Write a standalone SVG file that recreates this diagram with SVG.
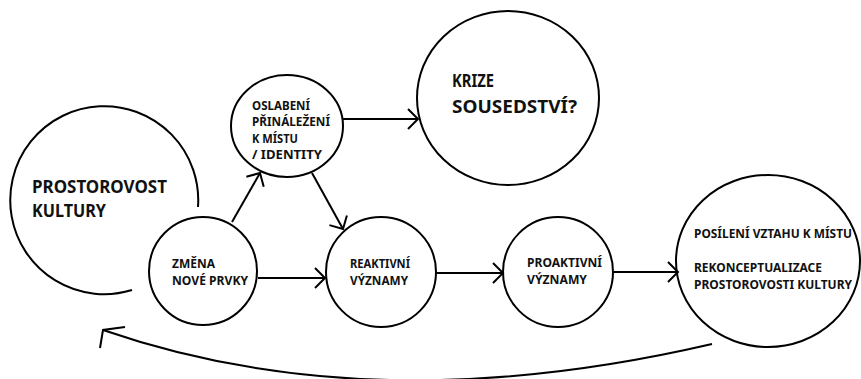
<svg xmlns="http://www.w3.org/2000/svg" width="861" height="379" viewBox="0 0 861 379">
<style>
.n{fill:#fff;stroke:#000;stroke-width:2}
.t{font-family:"Noto Sans","Open Sans","Liberation Sans",sans-serif;font-weight:bold;font-size:12px;fill:#111}
.b{font-size:17.5px}
.c{fill:none;stroke:#000;stroke-width:2}
</style>
<defs>
<marker id="ah" viewBox="0 0 22 22" refX="11" refY="11" markerWidth="22" markerHeight="22" markerUnits="userSpaceOnUse" orient="auto">
<path d="M1,1 L11,11 L1,21" fill="none" stroke="#000" stroke-width="2"/>
</marker>
</defs>
<rect width="861" height="379" fill="#fff"/>
<g id="prostorovost">
<path class="c" d="M198,207 A94,94 0 1 0 132,290"/>
<text class="t b" x="32" y="193" textLength="135" lengthAdjust="spacingAndGlyphs">PROSTOROVOST</text>
<text class="t b" x="32" y="217" textLength="74" lengthAdjust="spacingAndGlyphs">KULTURY</text>
</g>
<g id="zmena">
<circle class="n" cx="203" cy="271" r="54"/>
<text class="t" x="172" y="268" textLength="43" lengthAdjust="spacingAndGlyphs">ZMĚNA</text>
<text class="t" x="172" y="285" textLength="76" lengthAdjust="spacingAndGlyphs">NOVÉ PRVKY</text>
</g>
<g id="oslabeni">
<ellipse class="n" cx="287" cy="126" rx="56" ry="51"/>
<text class="t" x="252" y="110" textLength="58" lengthAdjust="spacingAndGlyphs">OSLABENÍ</text>
<text class="t" x="252" y="126" textLength="78" lengthAdjust="spacingAndGlyphs">PŘINÁLEŽENÍ</text>
<text class="t" x="252" y="143" textLength="46" lengthAdjust="spacingAndGlyphs">K MÍSTU</text>
<text class="t" x="252" y="159" textLength="70" lengthAdjust="spacingAndGlyphs">/ IDENTITY</text>
</g>
<g id="krize">
<ellipse class="n" cx="508" cy="98" rx="91" ry="87"/>
<text class="t b" x="452" y="87" textLength="42" lengthAdjust="spacingAndGlyphs">KRIZE</text>
<text class="t b" x="452" y="113" textLength="125" lengthAdjust="spacingAndGlyphs">SOUSEDSTVÍ?</text>
</g>
<g id="reaktivni">
<circle class="n" cx="381" cy="272" r="55"/>
<text class="t" x="350" y="268" textLength="60" lengthAdjust="spacingAndGlyphs">REAKTIVNÍ</text>
<text class="t" x="350" y="285" textLength="58" lengthAdjust="spacingAndGlyphs">VÝZNAMY</text>
</g>
<g id="proaktivni">
<circle class="n" cx="558" cy="272" r="55"/>
<text class="t" x="527" y="267" textLength="75" lengthAdjust="spacingAndGlyphs">PROAKTIVNÍ</text>
<text class="t" x="527" y="284" textLength="60" lengthAdjust="spacingAndGlyphs">VÝZNAMY</text>
</g>
<g id="posileni">
<ellipse class="n" cx="768" cy="261" rx="92" ry="86"/>
<text class="t" x="694" y="238" textLength="158" lengthAdjust="spacingAndGlyphs">POSÍLENÍ VZTAHU K MÍSTU</text>
<text class="t" x="694" y="272" textLength="128" lengthAdjust="spacingAndGlyphs">REKONCEPTUALIZACE</text>
<text class="t" x="694" y="289" textLength="158" lengthAdjust="spacingAndGlyphs">PROSTOROVOSTI KULTURY</text>
</g>
<g id="connectors">
<line class="c" x1="232" y1="222" x2="260" y2="173" marker-end="url(#ah)"/>
<line class="c" x1="343" y1="119" x2="418" y2="119" marker-end="url(#ah)"/>
<line class="c" x1="312" y1="173" x2="343" y2="229" marker-end="url(#ah)"/>
<line class="c" x1="258" y1="278" x2="325" y2="278" marker-end="url(#ah)"/>
<line class="c" x1="436" y1="273" x2="503" y2="273" marker-end="url(#ah)"/>
<line class="c" x1="614" y1="272" x2="678" y2="272" marker-end="url(#ah)"/>
<path class="c" d="M712,344 Q372,423 103,330"/>
<path class="c" d="M125,327 L103,330 L100,348"/>
</g>
</svg>
